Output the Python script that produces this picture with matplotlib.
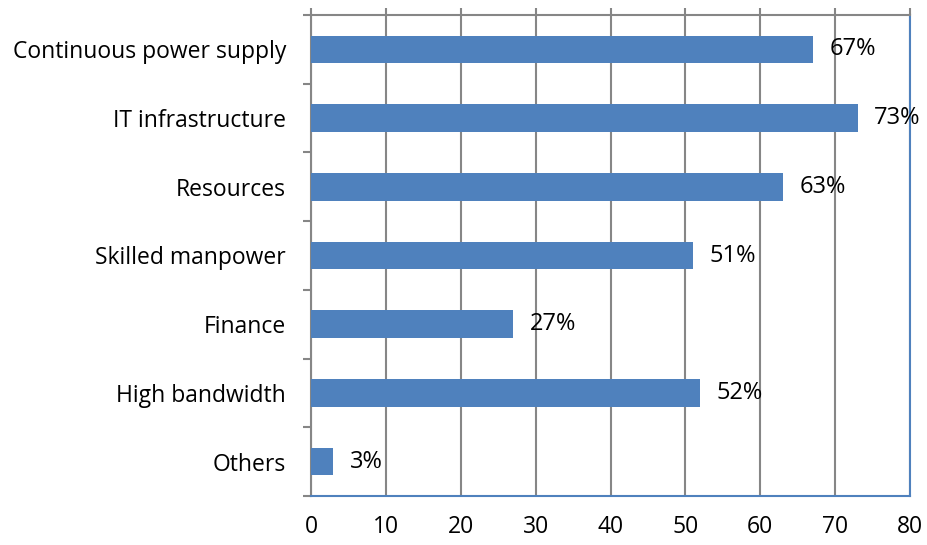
import matplotlib.pyplot as plt
import numpy as np

categories = ['Continuous power supply', 'IT infrastructure', 'Resources',
              'Skilled manpower', 'Finance', 'High bandwidth', 'Others']
values = [67, 73, 63, 51, 27, 52, 3]
xticks = [0, 10, 20, 30, 40, 50, 60, 70, 80]

BLUE = '#4F81BD'
GRAY = '#868686'

plt.rcParams['font.family'] = ['Open Sans', 'DejaVu Sans']

fig = plt.figure(figsize=(9.27, 5.45), dpi=100)
ax = fig.add_axes([311 / 927, 1 - 496 / 545, 599 / 927, 481 / 545])

y = np.arange(len(categories))
ax.barh(y, values, height=0.4, color=BLUE, zorder=3)

for yi, v in zip(y, values):
    ax.text(v + 2.2, yi, f'{v}%', va='center', ha='left', fontsize=17, zorder=4)

ax.set_xlim(0, 80)
ax.set_ylim(len(categories) - 0.5, -0.5)
ax.set_xticks(xticks)
ax.set_xticklabels([str(t) for t in xticks], fontsize=16.5)
ax.set_yticks(y)
ax.set_yticklabels(categories, fontsize=16.5)
ax.set_yticks(np.arange(len(categories) + 1) - 0.5, minor=True)

ax.xaxis.grid(True, color=GRAY, linewidth=1.5, zorder=0)
ax.tick_params(axis='x', bottom=False, top=True, labelbottom=True, labeltop=False,
               length=5, width=1.5, color=GRAY, pad=9)
ax.tick_params(axis='y', which='major', length=0, pad=18)
ax.tick_params(axis='y', which='minor', length=6, width=1.5, color=GRAY)

ax.spines['top'].set_color(GRAY)
ax.spines['left'].set_color(GRAY)
ax.spines['bottom'].set_color(BLUE)
ax.spines['right'].set_color(BLUE)
for s in ax.spines.values():
    s.set_linewidth(1.5)

fig.savefig('out.png', dpi=100)
